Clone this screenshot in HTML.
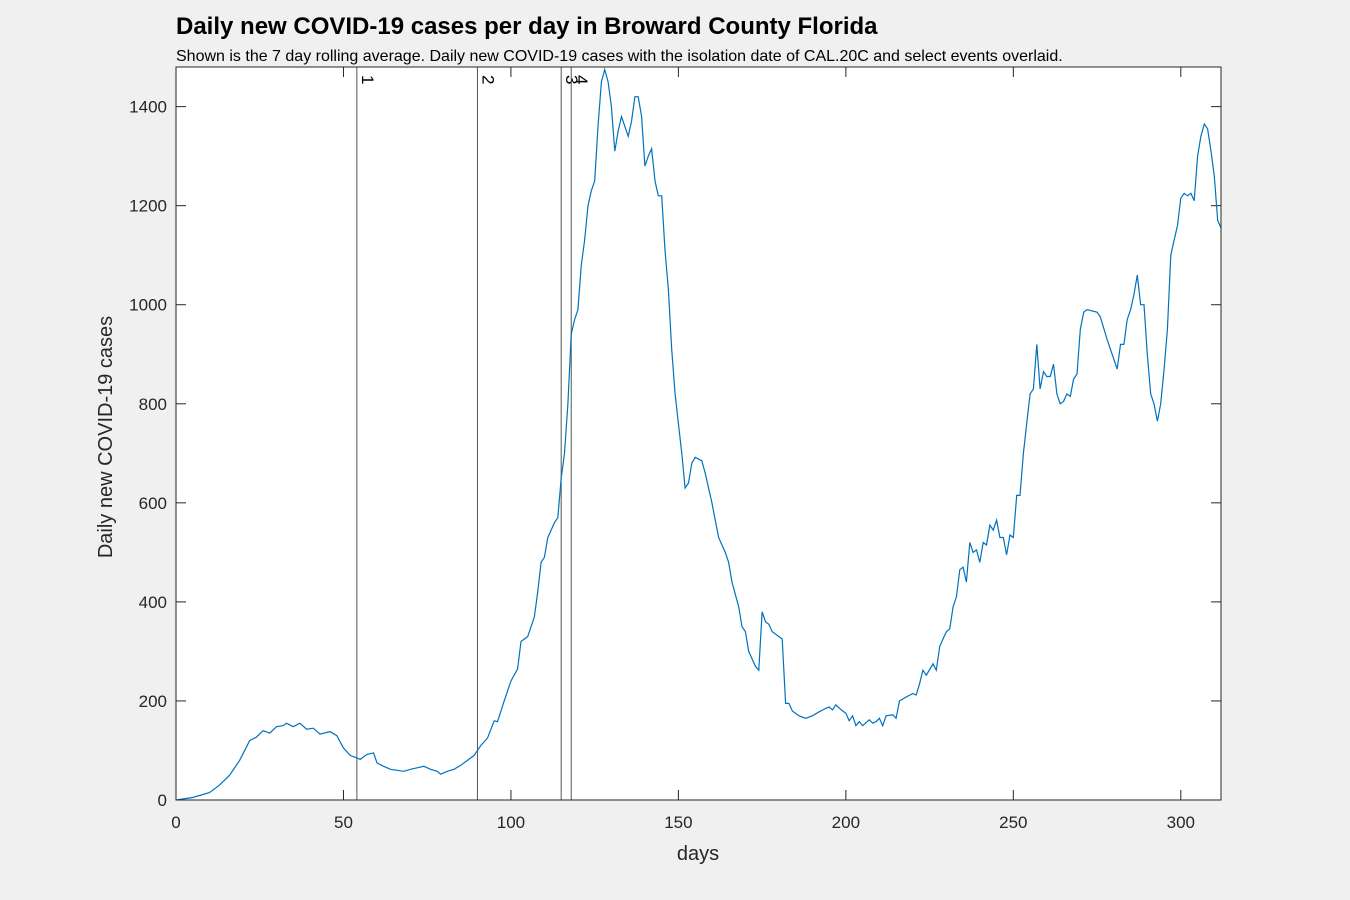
<!DOCTYPE html>
<html><head><meta charset="utf-8"><style>
body{margin:0;background:#f0f0f0;overflow:hidden;}
svg{display:block;}
svg text{font-family:"Liberation Sans",Arial,sans-serif;}
</style></head><body>
<svg id="chart" width="1350" height="900" xmlns="http://www.w3.org/2000/svg">
<rect width="1350" height="900" fill="#f0f0f0"/>
<rect x="176" y="67" width="1045" height="733" fill="#fff"/>
<text x="176" y="34" font-size="24" font-weight="bold" fill="#000">Daily new COVID-19 cases per day in Broward County Florida</text>
<text x="176" y="61" font-size="16" fill="#000">Shown is the 7 day rolling average. Daily new COVID-19 cases with the isolation date of CAL.20C and select events overlaid.</text>
<text x="698" y="860" font-size="20" text-anchor="middle" fill="#262626">days</text>
<text transform="translate(112,437) rotate(-90)" font-size="20" text-anchor="middle" fill="#262626">Daily new COVID-19 cases</text>
<g id="marks"></g>
<rect x="176" y="67" width="1045" height="733" fill="none" stroke="#262626" stroke-width="1"/>
</svg>
<script>
const days=[0,5,10,13,16,19,22,24,26,28,30,32,33,35,37,39,41,43,46,48,50,52,54,55,57,59,60,62,64,66,68,70,72,74,76,78,79,81,83,85,87,89,91,93,95,96,98,100,102,103,105,107,108,109,110,111,113,114,115,116,117,118,119,120,121,122,123,124,125,126,127,128,129,130,131,132,133,135,136,137,138,139,140,141,142,143,144,145,146,147,148,149,150,151,152,153,154,155,157,158,160,162,164,165,166,168,169,170,171,173,174,175,176,177,178,180,181,182,183,184,186,188,190,192,194,195,196,197,199,200,201,202,203,204,205,207,208,209,210,211,212,214,215,216,218,220,221,222,223,224,226,227,228,229,230,231,232,233,234,235,236,237,238,239,240,241,242,243,244,245,246,247,248,249,250,251,252,253,254,255,256,257,258,259,260,261,262,263,264,265,266,267,268,269,270,271,272,275,276,278,280,281,282,283,284,285,286,287,288,289,290,291,292,293,294,295,296,297,298,299,300,301,302,303,304,305,306,307,308,309,310,311,312];
const cases=[0,5,15,30,50,80,120,127,140,135,148,150,155,148,155,143,145,133,138,130,105,90,85,82,92,95,75,68,62,60,58,62,65,68,62,58,52,58,62,70,80,90,110,125,160,158,200,240,265,320,330,370,420,480,490,530,560,570,650,700,800,940,970,990,1080,1130,1200,1230,1250,1360,1450,1475,1450,1400,1310,1350,1380,1340,1370,1420,1420,1380,1280,1300,1315,1250,1220,1220,1110,1030,910,820,760,700,630,640,680,692,685,660,600,530,500,480,440,390,350,340,300,270,262,380,360,355,340,330,325,195,195,180,170,165,170,178,185,188,182,192,180,175,160,170,150,158,150,162,155,158,165,150,170,172,165,200,208,215,212,235,262,252,275,262,310,325,340,345,390,410,465,470,440,520,500,505,480,520,515,555,545,565,530,530,495,535,530,615,615,700,760,820,830,920,830,865,855,855,880,820,800,805,820,815,850,860,950,985,990,985,975,930,890,870,920,920,970,990,1020,1060,1000,1000,900,820,800,765,800,870,950,1100,1130,1160,1215,1225,1220,1225,1210,1300,1340,1365,1355,1310,1260,1170,1155];
const eventDays=[54,90,115,118];
const eventLabels=["1","2","3","4"];
const xTicks=[0,50,100,150,200,250,300];
const yTicks=[0,200,400,600,800,1000,1200,1400];
const X0=176,X1=1221,Y0=800,Y1=67,XMAX=312,YMAX=1480;
const sx=d=>X0+(d/XMAX)*(X1-X0);
const sy=v=>Y0-(v/YMAX)*(Y0-Y1);
const NS="http://www.w3.org/2000/svg";
const g=document.getElementById('marks');
function mk(t,a){const e=document.createElementNS(NS,t);for(const k in a)e.setAttribute(k,a[k]);g.appendChild(e);return e;}
xTicks.forEach(t=>{
  const l=mk('line',{x1:sx(t),x2:sx(t),y1:Y0,y2:Y0-10,stroke:'#262626'});
  
  
  const l2=mk('line',{x1:sx(t),x2:sx(t),y1:Y1,y2:Y1+10,stroke:'#262626'});
  
  
  const tx=mk('text',{x:sx(t),y:Y0+28,'font-size':17,'text-anchor':'middle',fill:'#262626'});
  tx.textContent=t;
  
  
});
yTicks.forEach(t=>{
  const l=mk('line',{x1:X0,x2:X0+10,y1:sy(t),y2:sy(t),stroke:'#262626'});
  
  
  const l2=mk('line',{x1:X1-10,x2:X1,y1:sy(t),y2:sy(t),stroke:'#262626'});
  
  
  const tx=mk('text',{x:X0-9,y:sy(t)+6,'font-size':17,'text-anchor':'end',fill:'#262626'});
  tx.textContent=t;
  
  
});
eventDays.forEach((d,i)=>{
  const l=mk('line',{x1:sx(d),x2:sx(d),y1:Y0,y2:Y1,stroke:'#555','stroke-width':1});
  
  
  const tx=mk('text',{transform:`translate(${sx(d)+5},${Y1+8}) rotate(90)`,'font-size':17,fill:'#000'});
  tx.textContent=eventLabels[i];
  
  
});
const pts=days.map((d,i)=>sx(d).toFixed(1)+','+sy(cases[i]).toFixed(1)).join(' ');
const pl=mk('polyline',{points:pts,fill:'none',stroke:'#0072bd','stroke-width':1.2});


</script>
</body></html>
